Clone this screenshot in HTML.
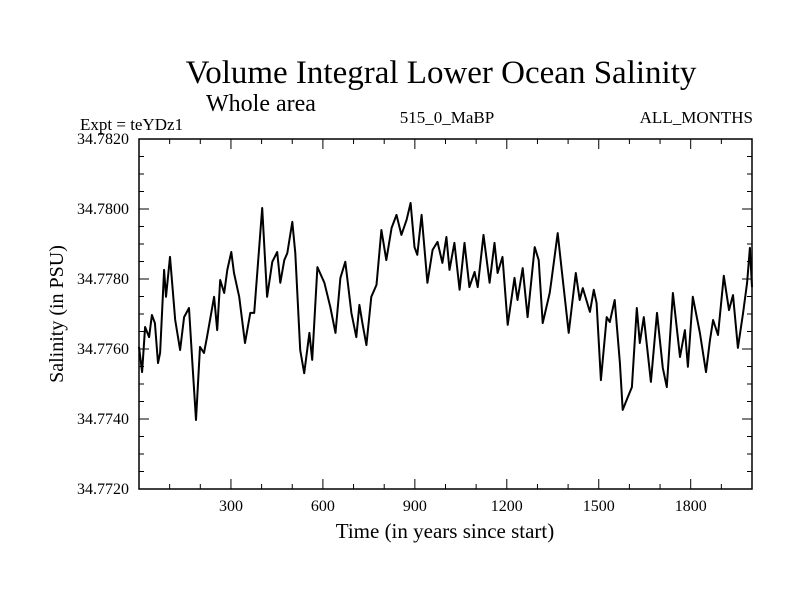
<!DOCTYPE html>
<html><head><meta charset="utf-8"><style>
body{margin:0;background:#fff}
svg{display:block;font-family:"Liberation Serif",serif}
</style></head><body>
<svg id="c" width="800" height="600" viewBox="0 0 800 600">
<text x="441" y="83" font-size="33" text-anchor="middle">Volume Integral Lower Ocean Salinity</text>
<text x="206" y="111" font-size="24">Whole area</text>
<text x="80" y="130" font-size="17">Expt = teYDz1</text>
<text x="447" y="123" font-size="17" text-anchor="middle">515_0_MaBP</text>
<text x="753" y="123" font-size="17" text-anchor="end">ALL_MONTHS</text>
<text x="445" y="538" font-size="21" text-anchor="middle">Time (in years since start)</text>
<text transform="translate(63,314) rotate(-90)" font-size="20" text-anchor="middle">Salinity (in PSU)</text>
<g id="axes"></g>
<path id="series" fill="none" stroke="#000" stroke-width="2" stroke-linejoin="round"/>
</svg>
<script>
const years=[0,10,20,33,42,52,62,69,82,88,101,118,134,147,163,173,186,199,212,222,245,255,265,278,288,301,310,327,346,363,376,402,418,435,451,461,474,484,500,510,526,539,556,565,582,605,624,641,657,673,693,709,719,729,742,758,775,791,807,824,840,856,873,886,899,908,922,941,958,974,990,1003,1013,1029,1046,1062,1078,1095,1105,1124,1144,1160,1170,1186,1203,1225,1235,1252,1268,1291,1304,1317,1340,1346,1366,1379,1389,1402,1425,1438,1448,1471,1484,1493,1507,1526,1536,1552,1569,1578,1595,1608,1624,1634,1647,1670,1690,1709,1722,1742,1765,1781,1791,1807,1830,1850,1863,1873,1889,1908,1925,1938,1954,1971,1984,1993,2000];
const salinity=[34.77606,34.77534,34.77663,34.77634,34.77697,34.77674,34.7756,34.77589,34.77826,34.77749,34.77863,34.77683,34.77597,34.77691,34.77717,34.77577,34.77397,34.77606,34.77589,34.77634,34.77749,34.77654,34.77797,34.7776,34.77826,34.77877,34.77817,34.77749,34.77617,34.77703,34.77703,34.78003,34.77749,34.77849,34.77877,34.77789,34.77854,34.77874,34.77963,34.77874,34.77597,34.77531,34.77646,34.77569,34.77834,34.77789,34.7772,34.77646,34.77803,34.77849,34.77703,34.77634,34.77726,34.77674,34.77611,34.77749,34.77783,34.7794,34.77854,34.77946,34.77983,34.77926,34.77969,34.78017,34.77891,34.77869,34.77983,34.77789,34.77883,34.77906,34.77846,34.7792,34.77826,34.77903,34.77769,34.77903,34.77777,34.7782,34.77777,34.77926,34.77789,34.77903,34.77817,34.77863,34.77669,34.77803,34.7774,34.77831,34.77691,34.77891,34.77854,34.77674,34.7776,34.77797,34.77931,34.77826,34.77749,34.77646,34.77817,34.7774,34.77774,34.77706,34.77769,34.77731,34.77511,34.77691,34.77677,34.7774,34.7756,34.77426,34.77463,34.77491,34.77717,34.77617,34.77691,34.77506,34.77703,34.77546,34.77491,34.7776,34.77577,34.77654,34.77549,34.77749,34.77646,34.77534,34.77626,34.77683,34.7764,34.77809,34.77711,34.77754,34.77603,34.77703,34.77789,34.77889,34.77777];
const xTickLabels=[300,600,900,1200,1500,1800];
const yTickLabels=["34.7720","34.7740","34.7760","34.7780","34.7800","34.7820"];
const X0=139,X1=752,Y0=489,Y1=139,xmin=0,xmax=2000,ymin=34.772,ymax=34.782;
const sx=v=>X0+(v-xmin)/(xmax-xmin)*(X1-X0);
const sy=v=>Y0-(v-ymin)/(ymax-ymin)*(Y0-Y1);
const NS="http://www.w3.org/2000/svg";
const ax=document.getElementById('axes');
function mk(t,a){const e=document.createElementNS(NS,t);for(const k in a)e.setAttribute(k,a[k]);ax.appendChild(e);return e;}
const frame=mk('rect',{x:X0,y:Y1,width:X1-X0,height:Y0-Y1,fill:'none',stroke:'#000','stroke-width':1.5});


for(let v=100;v<2000;v+=100){const L=v%300===0?10:5;const x=sx(v);
 mk('line',{x1:x,y1:Y0,x2:x,y2:Y0-L,stroke:'#000'});mk('line',{x1:x,y1:Y1,x2:x,y2:Y1+L,stroke:'#000'});}
for(let i=1;i<20;i++){const v=ymin+i*0.0005;const L=i%4===0?10:5;const y=sy(v);
 mk('line',{x1:X0,y1:y,x2:X0+L,y2:y,stroke:'#000'});mk('line',{x1:X1,y1:y,x2:X1-L,y2:y,stroke:'#000'});}
xTickLabels.forEach(v=>{const t=mk('text',{x:sx(v),y:511,'font-size':16,'text-anchor':'middle'});t.textContent=v;
 
 });
yTickLabels.forEach(s=>{const t=mk('text',{x:129,y:sy(parseFloat(s))+5,'font-size':16,'text-anchor':'end'});t.textContent=s;
 
 });
document.getElementById('series').setAttribute('d',years.map((y,i)=>(i?'L':'M')+sx(y).toFixed(1)+','+sy(salinity[i]).toFixed(1)).join(''));
</script>
</body></html>
